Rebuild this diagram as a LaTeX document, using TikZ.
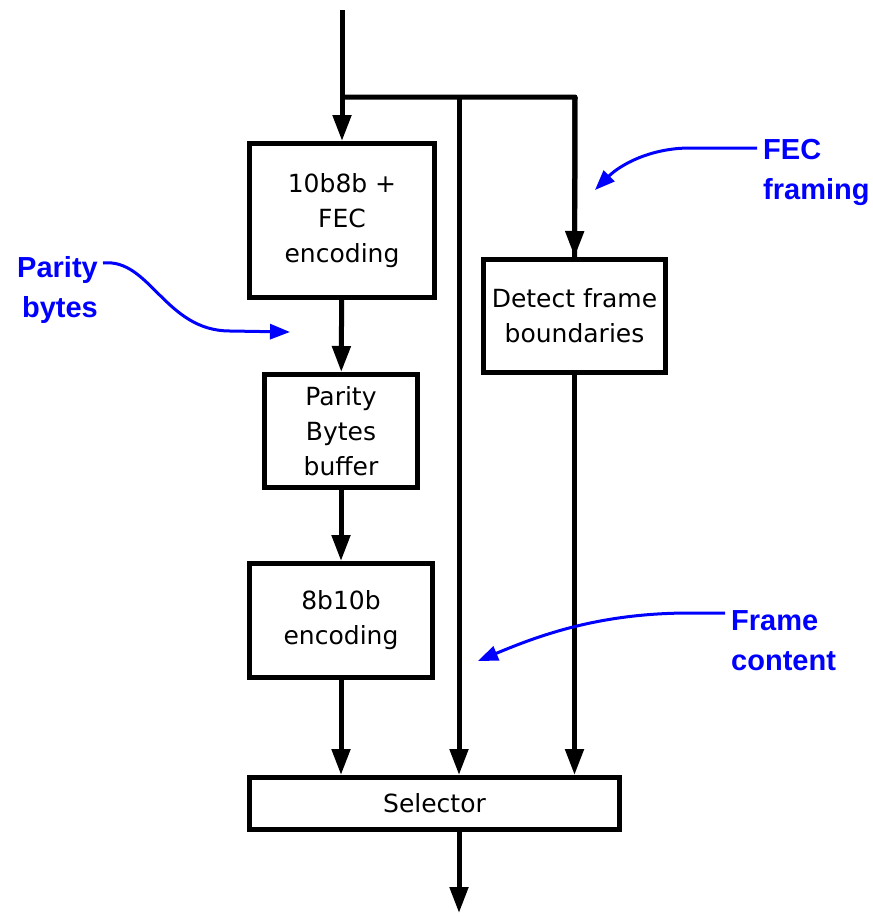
\documentclass[tikz,border=0pt]{standalone}
\usepackage{fontspec}
\setmainfont{DejaVu Sans}
\newfontfamily\notefont{Liberation Sans}
\usetikzlibrary{arrows.meta}

\begin{document}
\begin{tikzpicture}[x=1pt,y=-1pt,
  block/.style={rectangle,draw,line width=5pt,align=center,inner sep=0pt,font=\fontsize{25}{35}\selectfont},
  flow/.style={line width=5pt,-{Triangle[length=26pt,width=18pt]}},
  note/.style={draw=blue,line width=3pt,-{Triangle[length=20pt,width=15pt]}},
  notetext/.style={text=blue,inner sep=0pt,font=\notefont\bfseries\fontsize{29}{40}\selectfont}]
\useasboundingbox (0,0) rectangle (873,916);
\node [block,minimum width=185pt,minimum height=154pt] (enc) at (342,220.5) {10b8b +\\FEC\\encoding};
\node [block,minimum width=153pt,minimum height=113pt] (buf) at (341,431) {Parity\\Bytes\\buffer};
\node [block,minimum width=183pt,minimum height=114pt] (dec) at (341,620.5) {8b10b\\encoding};
\node [block,minimum width=182pt,minimum height=113pt] (detect) at (574.5,316) {Detect frame\\boundaries};
\node [block,minimum width=370pt,minimum height=52pt] (sel) at (434.5,803.5) {Selector};
\coordinate (in) at (342,10);
\coordinate (split) at (342,97);
\coordinate (mid) at (459,97);
\coordinate (right) at (575,97);
\coordinate (out) at (459,913);

\draw [flow] (in) -- (enc);
\draw [line width=5pt,line join=round] (split) -- (right) -- (detect.north);
\draw [flow] (right) -- (detect);
\draw [flow] (mid) -- (mid |- sel.north);
\draw [flow] (enc) -- (buf);
\draw [flow] (buf) -- (dec);
\draw [flow] (dec) -- (dec |- sel.north);
\draw [flow] (detect) -- (detect |- sel.north);
\draw [flow] (sel.south -| out) -- (out);

\node [notetext,align=right,anchor=east] (parity) at (98,290) {Parity\\bytes};
\node [notetext,align=left,anchor=west] (fec) at (763,172) {FEC\\framing};
\node [notetext,align=left,anchor=west] (content) at (731,641) {Frame\\content};
\coordinate (paritytip) at (290,332);
\coordinate (fectip) at (595,190);
\coordinate (contenttip) at (478,661);
\draw [note] ([xshift=5pt]parity.north east |- 0,263) .. controls (150,258) and (165,331) .. (230,331) -- (paritytip);
\draw [note] ([xshift=-6pt]fec.west |- 0,148) -- (690,148) .. controls (650,148) and (620,165) .. (fectip);
\draw [note] ([xshift=-6pt]content.west |- 0,613) -- (690,613) .. controls (600,613) and (540,635) .. (contenttip);
\end{tikzpicture}
\end{document}
